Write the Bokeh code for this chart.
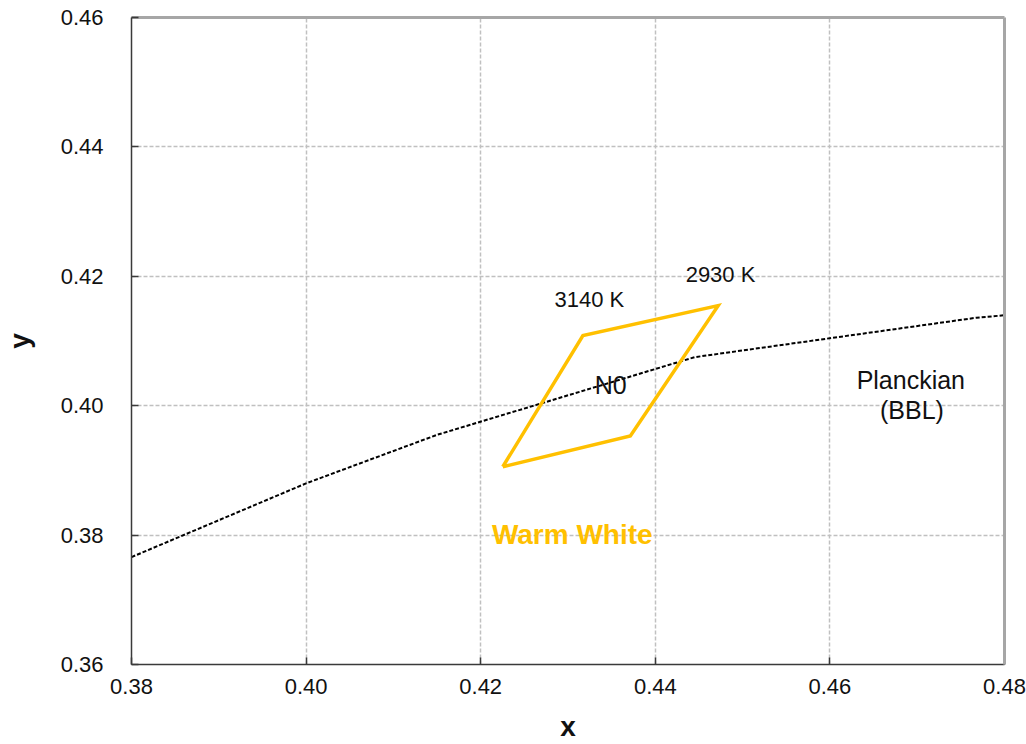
from bokeh.plotting import figure
from bokeh.models import LinearAxis, FixedTicker, Range1d, NumeralTickFormatter
from bokeh.core.properties import value
from bokeh.embed import file_html
from bokeh.resources import INLINE

# Planckian locus (black body line) in CIE 1931 xy
bbl_x = [0.3800, 0.4000, 0.4150, 0.4445, 0.4768, 0.4802]
bbl_y = [0.3766, 0.3880, 0.3955, 0.4075, 0.4136, 0.4140]

# N0 bin quadrangle corners (closed)
bin_x = [0.42253, 0.43171, 0.44720, 0.43714, 0.42253]
bin_y = [0.39056, 0.41085, 0.41547, 0.39533, 0.39056]

x_ticks = [0.38, 0.40, 0.42, 0.44, 0.46, 0.48]
y_ticks = [0.36, 0.38, 0.40, 0.42, 0.44, 0.46]

FONT = "Liberation Sans"
GOLD = "#FFC000"

p = figure(width=1026, height=744, output_backend="svg", toolbar_location=None,
           x_range=Range1d(0.38, 0.48), y_range=Range1d(0.36, 0.46),
           min_border_left=131, min_border_right=22, min_border_top=17,
           min_border_bottom=78)
p.outline_line_color = None
p.background_fill_color = "white"
p.border_fill_color = "white"

for ax, ticks in ((p.xaxis[0], x_ticks), (p.yaxis[0], y_ticks)):
    ax.ticker = FixedTicker(ticks=ticks)
    ax.formatter = NumeralTickFormatter(format="0.00")
    ax.axis_line_color = "#3a3a3a"
    ax.axis_line_width = 1.5
    ax.major_tick_in = 7
    ax.major_tick_out = 0
    ax.major_tick_line_color = "#3a3a3a"
    ax.major_tick_line_width = 1.5
    ax.minor_tick_line_color = None
    ax.major_label_text_font = FONT
    ax.major_label_text_font_size = "22px"
    ax.major_label_text_color = "#111111"
    ax.axis_label_text_font = FONT
    ax.axis_label_text_font_style = "bold"
    ax.axis_label_text_font_size = "28px"
    ax.axis_label_text_color = "#111111"

p.xaxis[0].axis_label = "x"
p.yaxis[0].axis_label = "y"
p.xaxis[0].major_label_standoff = 14
p.yaxis[0].major_label_standoff = 28
p.xaxis[0].axis_label_standoff = 14
p.yaxis[0].axis_label_standoff = 23

# light frame on the top and right sides
for side in ("above", "right"):
    frame_ax = LinearAxis(ticker=FixedTicker(ticks=[]), axis_line_color="#a6a6a6",
                          axis_line_width=3, major_tick_line_color=None,
                          minor_tick_line_color=None, major_label_text_font_size="0px")
    p.add_layout(frame_ax, side)

p.xgrid[0].ticker = FixedTicker(ticks=x_ticks[1:-1])
p.ygrid[0].ticker = FixedTicker(ticks=y_ticks[1:-1])
p.grid.grid_line_color = "#c0c0c0"
p.grid.grid_line_width = 1.5
p.grid.grid_line_dash = "4 2"

p.line(bbl_x, bbl_y, line_color="black", line_width=2, line_dash="4 2")
p.line(bin_x, bin_y, line_color=GOLD, line_width=3.5, line_join="miter")

def label(x, y, txt, size, color="#111111", style="normal"):
    p.text(x=[x], y=[y], text=[txt], text_font=value(FONT), text_font_size=size,
           text_color=color, text_font_style=style, text_align="center",
           text_baseline="middle")

label(0.43244, 0.41636, "3140 K", "22px")
label(0.44747, 0.42024, "2930 K", "22px")
label(0.43490, 0.40314, "N0", "25px")
label(0.46927, 0.40391, "Planckian", "25px")
label(0.46940, 0.39929, "(BBL)", "25px")
label(0.43049, 0.38010, "Warm White", "28px", color=GOLD, style="bold")

open("out.html", "w").write(file_html(p, INLINE))
